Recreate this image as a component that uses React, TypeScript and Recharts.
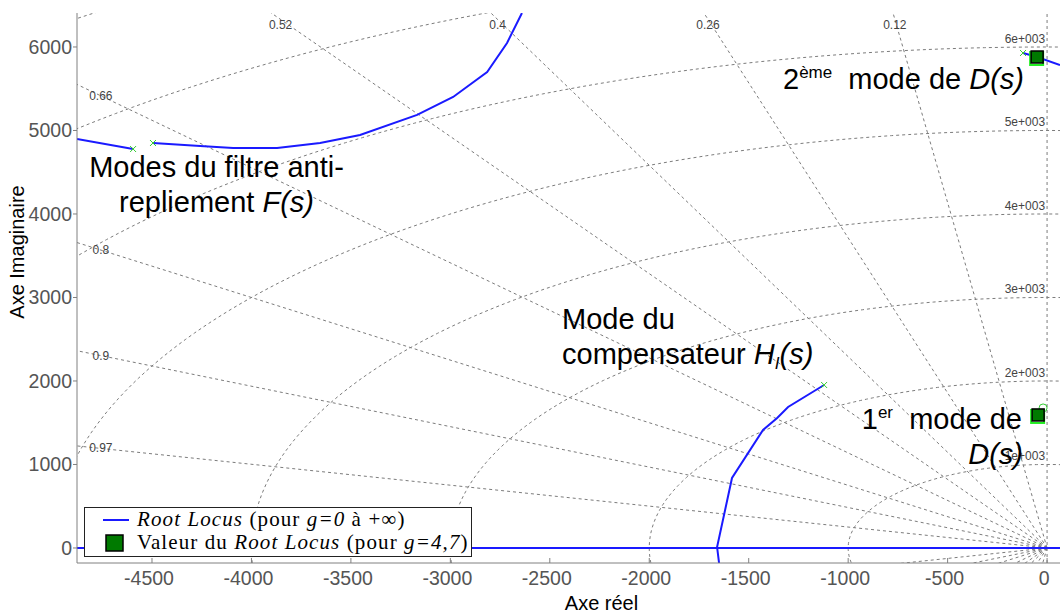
import {
  ComposedChart,
  Legend,
  Line,
  ReferenceDot,
  ReferenceLine,
  Scatter,
  XAxis,
  YAxis,
} from "recharts";

// grille sgrid : amortissements et pulsations propres (rad/s)
const ZETA = [0.12, 0.26, 0.4, 0.52, 0.66, 0.8, 0.9, 0.97];
const WN = [1000, 2000, 3000, 4000, 5000, 6000, 7000, 8000];
const WN_LABELS = ["1e+003", "2e+003", "3e+003", "4e+003", "5e+003", "6e+003"];

const X_TICKS = [-4500, -4000, -3500, -3000, -2500, -2000, -1500, -1000, -500, 0];
const Y_TICKS = [0, 1000, 2000, 3000, 4000, 5000, 6000];
const X_DOMAIN = [-4877, 65];
const Y_DOMAIN = [-180, 6407];

// branches du lieu des racines
const axeReel = [
  { x: -4877, y: 0 },
  { x: 65, y: 0 },
];
const filtreA = [
  { x: -4877, y: 4898 },
  { x: -4595, y: 4778 },
];
const filtreB = [
  { x: -4495, y: 4850 },
  { x: -4258, y: 4814 },
  { x: -4092, y: 4790 },
  { x: -3871, y: 4790 },
  { x: -3655, y: 4850 },
  { x: -3454, y: 4946 },
  { x: -3167, y: 5186 },
  { x: -2986, y: 5401 },
  { x: -2815, y: 5701 },
  { x: -2715, y: 6048 },
  { x: -2640, y: 6407 },
];
const compensateur = [
  { x: -1121, y: 1952 },
  { x: -1302, y: 1689 },
  { x: -1357, y: 1557 },
  { x: -1428, y: 1413 },
  { x: -1584, y: 838 },
  { x: -1659, y: 10 },
  { x: -1649, y: -180 },
];
const modeD2 = [
  { x: -121, y: 5928 },
  { x: -50, y: 5880 },
  { x: 65, y: 5784 },
];
const poles = [
  { x: -4595, y: 4778 },
  { x: -4495, y: 4850 },
  { x: -1121, y: 1952 },
  { x: -121, y: 5928 },
];
const zeros = [{ x: -20, y: 1677 }];
const valeursG = [
  { x: -50, y: 5880 },
  { x: -45, y: 1593 },
];

const BLUE = "#1a1aff";
const GRID = "#7c7c7c";
const FONT = "Arial, 'Liberation Sans', sans-serif";

const arc = (wn: number) => {
  const pts: { x: number; y: number }[] = [];
  for (let deg = 84; deg <= 196; deg += 1) {
    const t = (deg * Math.PI) / 180;
    pts.push({ x: wn * Math.cos(t), y: wn * Math.sin(t) });
  }
  return pts;
};

const zetaLabel = (z: number) => {
  const k = Math.sqrt(1 - z * z) / z;
  const yLeft = -(X_DOMAIN[0] + 120) * k;
  if (yLeft < Y_DOMAIN[1] - 80) {
    return { x: X_DOMAIN[0] + 120, y: yLeft, top: false };
  }
  return { x: -6330 / k, y: 6330, top: true };
};

const XTick = (props: any) => {
  const { x, y, payload, top } = props;
  if (top) {
    return <line x1={x} y1={y} x2={x} y2={y + 5} stroke="#808080" />;
  }
  return (
    <g>
      <line x1={x} y1={y} x2={x} y2={y - 5} stroke="#808080" />
      <text x={x - 3} y={y + 22} textAnchor="middle" fontSize={19.5} fill="#555" fontFamily={FONT}>
        {payload.value}
      </text>
    </g>
  );
};

const XLabel = (props: any) => {
  const { viewBox } = props;
  return (
    <text
      x={viewBox.x + viewBox.width / 2 + 33}
      y={viewBox.y + viewBox.height - 4}
      textAnchor="middle"
      fontSize={20}
      fill="#000"
      fontFamily={FONT}
    >
      Axe réel
    </text>
  );
};

const YLabel = (props: any) => {
  const { viewBox } = props;
  const cx = viewBox.x + 17;
  const cy = viewBox.y + viewBox.height / 2 - 36;
  return (
    <text
      x={cx}
      y={cy}
      transform={`rotate(-90 ${cx} ${cy})`}
      textAnchor="middle"
      dominantBaseline="central"
      fontSize={20}
      fill="#000"
      fontFamily={FONT}
    >
      Axe Imaginaire
    </text>
  );
};

const LegendBox = () => (
  <div
    style={{
      width: 388,
      height: 50,
      boxSizing: "border-box",
      border: "1px solid #222",
      background: "#fff",
      padding: "0 0 0 18px",
      fontFamily: "'Liberation Serif', 'Times New Roman', serif",
      fontSize: 21,
      lineHeight: "23px",
      letterSpacing: "1.1px",
      color: "#000",
      textAlign: "left",
      whiteSpace: "nowrap",
    }}
  >
    <div style={{ display: "flex", alignItems: "center" }}>
      <svg width={26} height={12} style={{ marginRight: 8 }}>
        <line x1={0} y1={6} x2={26} y2={6} stroke={BLUE} strokeWidth={2} />
      </svg>
      <span>
        <i>Root Locus</i> (pour <i>g=0</i> à +∞)
      </span>
    </div>
    <div style={{ display: "flex", alignItems: "center" }}>
      <svg width={26} height={20} style={{ marginRight: 8 }}>
        <rect x={3} y={2} width={17} height={16} fill="#007a00" stroke="#000" strokeWidth={1.5} />
      </svg>
      <span>
        Valeur du <i>Root Locus</i> (pour <i>g=4,7</i>)
      </span>
    </div>
  </div>
);

const annot: React.CSSProperties = {
  position: "absolute",
  fontFamily: FONT,
  fontSize: 29,
  lineHeight: "29px",
  color: "#000",
  whiteSpace: "nowrap",
};
const sup: React.CSSProperties = { fontSize: 17, verticalAlign: "11px", lineHeight: 0 };

export default function App() {
  return (
    <div style={{ position: "relative", width: 1060, height: 614 }}>
      <style>{"body{margin:0}"}</style>
      <ComposedChart width={1060} height={614} margin={{ top: 13, right: 0, bottom: 0, left: 0 }}>
        <XAxis
          dataKey="x"
          type="number"
          domain={X_DOMAIN}
          ticks={X_TICKS}
          allowDataOverflow
          height={51}
          tickSize={0}
          tickMargin={0}
          tickLine={false}
          stroke="#808080"
          tick={<XTick />}
          label={<XLabel />}
        />
        <XAxis
          xAxisId="top"
          orientation="top"
          type="number"
          domain={X_DOMAIN}
          ticks={X_TICKS}
          allowDataOverflow
          height={0}
          tickSize={0}
          tickMargin={0}
          tickLine={false}
          stroke="#808080"
          tick={<XTick top />}
        />
        <YAxis
          dataKey="y"
          type="number"
          domain={Y_DOMAIN}
          ticks={Y_TICKS}
          allowDataOverflow
          width={77}
          tickSize={4}
          tickMargin={1}
          stroke="#808080"
          tick={{ fontSize: 19.5, fill: "#555", fontFamily: FONT }}
          label={<YLabel />}
        />

        {/* grille : droites d'amortissement constant */}
        {ZETA.flatMap((z) => {
          const c = Math.sqrt(1 - z * z);
          return [1, -1].map((s) => (
            <ReferenceLine
              key={`z${z}${s}`}
              segment={[
                { x: 0, y: 0 },
                { x: -9000 * z, y: s * 9000 * c },
              ]}
              ifOverflow="hidden"
              stroke={GRID}
              strokeDasharray="3 3"
            />
          ));
        })}
        <ReferenceLine x={0} stroke={GRID} strokeDasharray="3 3" />
        <ReferenceLine y={0} stroke={GRID} strokeDasharray="3 3" />

        {/* grille : cercles de pulsation propre constante */}
        {WN.map((wn) => (
          <Line
            key={`wn${wn}`}
            data={arc(wn)}
            dataKey="y"
            type="linear"
            stroke={GRID}
            strokeDasharray="3 3"
            strokeWidth={1}
            dot={false}
            activeDot={false}
            isAnimationActive={false}
            legendType="none"
          />
        ))}

        {ZETA.map((z) => {
          const p = zetaLabel(z);
          return (
            <ReferenceDot
              key={`lz${z}`}
              x={p.x}
              y={p.y}
              r={0}
              ifOverflow="visible"
              shape={(sp: any) => (
                <text
                  x={sp.cx}
                  y={p.top ? sp.cy + 10 : sp.cy + 4}
                  textAnchor="middle"
                  fontSize={12}
                  fill="#444"
                  fontFamily={FONT}
                >
                  {z}
                </text>
              )}
            />
          );
        })}
        {WN_LABELS.map((lbl, i) => (
          <ReferenceDot
            key={lbl}
            x={0}
            y={WN[i]}
            r={0}
            ifOverflow="visible"
            shape={(sp: any) => (
              <text x={sp.cx - 2} y={sp.cy - 4} textAnchor="end" fontSize={12} fill="#444" fontFamily={FONT}>
                {lbl}
              </text>
            )}
          />
        ))}

        {/* lieu des racines */}
        {[axeReel, filtreA, filtreB, compensateur, modeD2].map((d, i) => (
          <Line
            key={`rl${i}`}
            data={d}
            dataKey="y"
            type="linear"
            stroke={BLUE}
            strokeWidth={2}
            dot={false}
            activeDot={false}
            isAnimationActive={false}
            legendType="none"
          />
        ))}
        <Scatter
          data={poles}
          isAnimationActive={false}
          legendType="none"
          shape={(p: any) => (
            <g stroke="#33cc33" strokeWidth={1}>
              <line x1={p.cx - 3} y1={p.cy - 3} x2={p.cx + 3} y2={p.cy + 3} />
              <line x1={p.cx - 3} y1={p.cy + 3} x2={p.cx + 3} y2={p.cy - 3} />
            </g>
          )}
        />
        <Scatter
          data={zeros}
          isAnimationActive={false}
          legendType="none"
          shape={(p: any) => <circle cx={p.cx} cy={p.cy} r={4} fill="none" stroke="#33cc33" />}
        />
        <Scatter
          data={valeursG}
          isAnimationActive={false}
          legendType="none"
          shape={(p: any) => (
            <g>
              <rect x={p.cx - 7} y={p.cy - 5} width={13} height={13} fill="none" stroke="#22ee22" strokeWidth={2} />
              <rect x={p.cx - 6} y={p.cy - 6} width={12} height={12} fill="#007a00" stroke="#000" strokeWidth={1.5} />
            </g>
          )}
        />

        <Legend
          content={<LegendBox />}
          layout="horizontal"
          verticalAlign="middle"
          align="center"
          wrapperStyle={{ left: 84, top: 507, width: 388, height: 50 }}
        />
      </ComposedChart>

      {/* annotations */}
      <div style={{ ...annot, left: 0, width: 433, textAlign: "center", top: 153 }}>Modes du filtre anti-</div>
      <div style={{ ...annot, left: 0, width: 433, textAlign: "center", top: 188 }}>
        repliement <i>F(s)</i>
      </div>
      <div style={{ ...annot, left: 783, top: 65 }}>
        2<sup style={sup}>ème</sup>&nbsp; mode de <i>D(s)</i>
      </div>
      <div style={{ ...annot, left: 562, top: 305 }}>Mode du</div>
      <div style={{ ...annot, left: 562, top: 340 }}>
        compensateur <i>H</i>
        <sub style={{ fontSize: 17, verticalAlign: "-5px", lineHeight: 0 }}>
          <i>I</i>
        </sub>
        <i>(s)</i>
      </div>
      <div style={{ ...annot, right: 1060 - 1022, top: 405 }}>
        1<sup style={sup}>er</sup>&nbsp; mode de
      </div>
      <div style={{ ...annot, right: 1060 - 1023, top: 440 }}>
        <i>D(s)</i>
      </div>
    </div>
  );
}
